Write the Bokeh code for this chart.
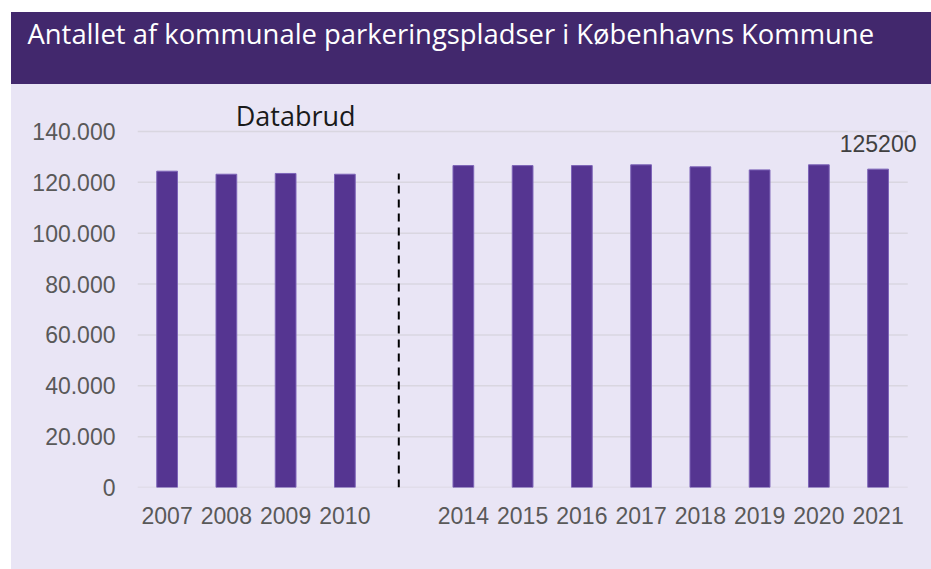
from bokeh.plotting import figure
from bokeh.models import Range1d, FixedTicker
from bokeh.layouts import column
from bokeh.core.properties import value
from bokeh.embed import file_html
from bokeh.resources import INLINE

# ---- data ----
title_text = "Antallet af kommunale parkeringspladser i Københavns Kommune"
years = ["2007", "2008", "2009", "2010", "2014", "2015", "2016", "2017", "2018", "2019", "2020", "2021"]
spaces = [124400, 123200, 123500, 123200, 126600, 126600, 126600, 126900, 126100, 124900, 126900, 125200]
gap_label = ""
break_text = "Databrud"
y_ticks = [0, 20000, 40000, 60000, 80000, 100000, 120000, 140000]
y_tick_labels = ["0", "20.000", "40.000", "60.000", "80.000", "100.000", "120.000", "140.000"]

# category slots (one empty slot marks the break in the series)
slots = years[:4] + [gap_label] + years[4:]
xpos = [slots.index(y) for y in years]
gap_pos = slots.index(gap_label)

BAND = "#42286d"
LAV = "#e9e5f5"
BAR = "#553591"
GRID = "#d9d6e0"
TXT = "#595959"

W = 920
BORDER_LEFT = 126

# ---- title band ----
band = figure(width=W, height=72, x_range=Range1d(0, 1), y_range=Range1d(0, 1),
              title=title_text,
              output_backend="svg", toolbar_location=None,
              min_border=0, min_border_left=0, min_border_right=0,
              min_border_top=0, min_border_bottom=0,
              background_fill_color=None, border_fill_color=None,
              styles={"background-color": BAND},
              margin=(12, 0, 0, 11))
band.axis.visible = False
band.grid.visible = False
band.outline_line_color = None
band.title.text_color = "white"
band.title.text_font = "Open Sans"
band.title.text_font_size = "27.4px"
band.title.text_font_style = "normal"
band.title.align = "left"
band.title.offset = 16 - BORDER_LEFT
band.title.standoff = 0

# ---- chart ----
p = figure(width=W, height=485, x_range=Range1d(-0.5, 12.8),
           y_range=Range1d(0, 151800),
           output_backend="svg", toolbar_location=None,
           min_border_left=BORDER_LEFT, min_border_right=6, min_border_top=17, min_border_bottom=82,
           background_fill_color=None, border_fill_color=None,
           styles={"background-color": LAV},
           margin=(0, 0, 0, 11))
p.outline_line_color = None

# horizontal gridlines spanning the category slots
p.segment(x0=[-0.5] * len(y_ticks), x1=[len(slots) - 0.5] * len(y_ticks), y0=y_ticks, y1=y_ticks,
          line_color=GRID, line_width=1.5)

p.vbar(x=xpos, top=spaces, width=0.35, fill_color=BAR, line_color="#7d64b8", line_width=1)

# break marker
p.segment(x0=[gap_pos - 0.09], y0=[0], x1=[gap_pos - 0.09], y1=[123500],
          line_color="black", line_width=2, line_dash="8 6")

p.text(x=[slots.index("2009") + 0.17], y=[146300], text=[break_text], text_color="#1a1a1a",
       text_font=value("Open Sans"), text_font_size="27px",
       text_align="center", text_baseline="alphabetic")

p.text(x=[xpos[-1]], y=[spaces[-1]], text=[str(spaces[-1])], text_color="#404040",
       text_font=value("Liberation Sans"), text_font_size="23px",
       text_align="center", text_baseline="bottom", y_offset=-17)

p.xgrid.visible = False
p.ygrid.visible = False

p.xaxis.ticker = FixedTicker(ticks=xpos)
p.xaxis.major_label_overrides = {x: y for x, y in zip(xpos, years)}
p.yaxis.ticker = FixedTicker(ticks=y_ticks)
p.yaxis.major_label_overrides = {t: l for t, l in zip(y_ticks, y_tick_labels)}
for ax in (p.xaxis, p.yaxis):
    ax.axis_line_color = None
    ax.major_tick_line_color = None
    ax.minor_tick_line_color = None
    ax.major_label_text_font = "Liberation Sans"
    ax.major_label_text_font_size = "23px"
    ax.major_label_text_color = TXT
p.yaxis.major_label_standoff = 16
p.xaxis.major_label_standoff = 13

layout = column(band, p, spacing=0)
open("out.html", "w").write(file_html(layout, INLINE))
